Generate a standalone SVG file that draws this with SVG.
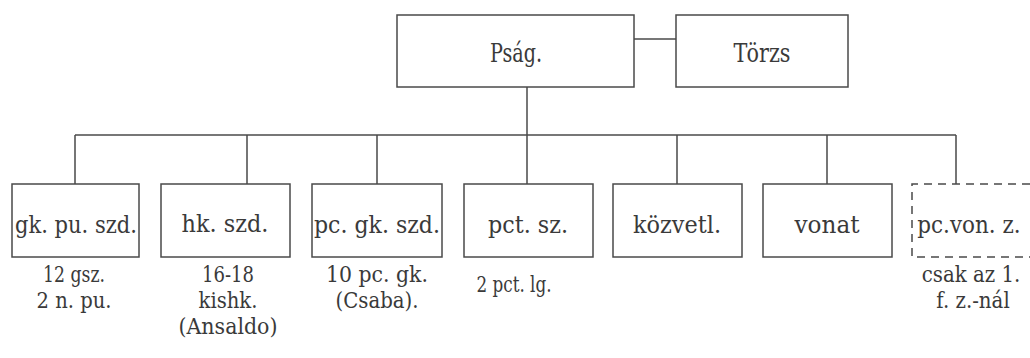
<svg xmlns="http://www.w3.org/2000/svg" width="1030" height="358" viewBox="0 0 1030 358">
<style>
.box{fill:#fff;stroke:#4a4a4a;stroke-width:1.5}
.dash{fill:none;stroke:#4a4a4a;stroke-width:1.5;stroke-dasharray:8 6}
.ln{fill:none;stroke:#4a4a4a;stroke-width:1.5}
text{font-family:"DejaVu Serif",serif;fill:#3a3a3a;text-anchor:middle}
.lb{font-size:25px}
.top{font-size:26px}
.nt{font-size:23px}
</style>
<rect width="1030" height="358" fill="#fff"/>
<g id="connectors">
<path class="ln" d="M634 39H676"/>
<path class="ln" d="M527 87V135"/>
<path class="ln" d="M75 135H956"/>
<path class="ln" d="M75 135V184M247 135V184M377 135V184M527 135V184M677 135V184M827 135V184M956 135V184"/>
</g>
<g id="psag"><rect class="box" x="397" y="15" width="237" height="72"/><text class="top" x="516" y="62" textLength="52" lengthAdjust="spacingAndGlyphs">Pság.</text></g>
<g id="torzs"><rect class="box" x="676" y="15" width="172" height="72"/><text class="top" x="762" y="62" textLength="57" lengthAdjust="spacingAndGlyphs">Törzs</text></g>
<g id="gk-pu-szd"><rect class="box" x="12" y="184" width="127" height="73"/><text class="lb" x="76" y="233" textLength="122" lengthAdjust="spacingAndGlyphs">gk. pu. szd.</text>
<text class="nt" x="74" y="282" textLength="62" lengthAdjust="spacingAndGlyphs">12 gsz.</text><text class="nt" x="74" y="308" textLength="75" lengthAdjust="spacingAndGlyphs">2 n. pu.</text></g>
<g id="hk-szd"><rect class="box" x="161" y="184" width="129" height="73"/><text class="lb" x="225" y="232" textLength="87" lengthAdjust="spacingAndGlyphs">hk. szd.</text>
<text class="nt" x="228" y="282" textLength="52" lengthAdjust="spacingAndGlyphs">16-18</text><text class="nt" x="228" y="308" textLength="59" lengthAdjust="spacingAndGlyphs">kishk.</text><text class="nt" x="228" y="334" textLength="99" lengthAdjust="spacingAndGlyphs">(Ansaldo)</text></g>
<g id="pc-gk-szd"><rect class="box" x="312" y="184" width="130" height="73"/><text class="lb" x="377" y="233" textLength="126" lengthAdjust="spacingAndGlyphs">pc. gk. szd.</text>
<text class="nt" x="377" y="282" textLength="102" lengthAdjust="spacingAndGlyphs">10 pc. gk.</text><text class="nt" x="377" y="308" textLength="83" lengthAdjust="spacingAndGlyphs">(Csaba).</text></g>
<g id="pct-sz"><rect class="box" x="464" y="184" width="129" height="73"/><text class="lb" x="528" y="233" textLength="80" lengthAdjust="spacingAndGlyphs">pct. sz.</text>
<text class="nt" x="514" y="292" textLength="75" lengthAdjust="spacingAndGlyphs">2 pct. lg.</text></g>
<g id="kozvetl"><rect class="box" x="613" y="184" width="129" height="73"/><text class="lb" x="677" y="233" textLength="88" lengthAdjust="spacingAndGlyphs">közvetl.</text></g>
<g id="vonat"><rect class="box" x="763" y="184" width="129" height="73"/><text class="lb" x="827" y="233" textLength="65" lengthAdjust="spacingAndGlyphs">vonat</text></g>
<g id="pc-von-z"><path class="dash" d="M1030 184H912V257H1030"/><text class="lb" transform="translate(969 233) scale(0.86 1)">pc.von. z.</text>
<text class="nt" transform="translate(971 282) scale(0.86 1)">csak az 1.</text><text class="nt" transform="translate(973 308) scale(0.86 1)">f. z.-nál</text></g>
</svg>
